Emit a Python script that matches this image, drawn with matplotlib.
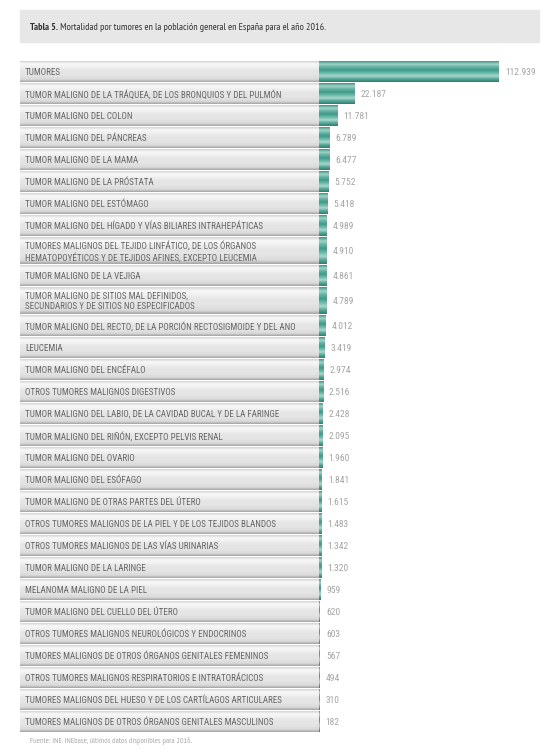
import numpy as np
from matplotlib import pyplot as plt
from matplotlib.colors import LinearSegmentedColormap, to_rgb
from matplotlib.patches import Rectangle
from matplotlib.transforms import blended_transform_factory

plt.rcParams["font.family"] = ["Roboto Condensed", "DejaVu Sans"]
TITLE_FONT = ["PT Sans Narrow", "DejaVu Sans"]

title_bold = "Tabla 5."
title_rest = " Mortalidad por tumores en la población general en España para el año 2016."
source = "Fuente: INE. INEbase, últimos datos disponibles para 2016."

labels = [
    "TUMORES",
    "TUMOR MALIGNO DE LA TRÁQUEA, DE LOS BRONQUIOS Y DEL PULMÓN",
    "TUMOR MALIGNO DEL COLON",
    "TUMOR MALIGNO DEL PÁNCREAS",
    "TUMOR MALIGNO DE LA MAMA",
    "TUMOR MALIGNO DE LA PRÓSTATA",
    "TUMOR MALIGNO DEL ESTÓMAGO",
    "TUMOR MALIGNO DEL HÍGADO Y VÍAS BILIARES INTRAHEPÁTICAS",
    "TUMORES MALIGNOS DEL TEJIDO LINFÁTICO, DE LOS ÓRGANOS\nHEMATOPOYÉTICOS Y DE TEJIDOS AFINES, EXCEPTO LEUCEMIA",
    "TUMOR MALIGNO DE LA VEJIGA",
    "TUMOR MALIGNO DE SITIOS MAL DEFINIDOS,\nSECUNDARIOS Y DE SITIOS NO ESPECIFICADOS",
    "TUMOR MALIGNO DEL RECTO, DE LA PORCIÓN RECTOSIGMOIDE Y DEL ANO",
    "LEUCEMIA",
    "TUMOR MALIGNO DEL ENCÉFALO",
    "OTROS TUMORES MALIGNOS DIGESTIVOS",
    "TUMOR MALIGNO DEL LABIO, DE LA CAVIDAD BUCAL Y DE LA FARINGE",
    "TUMOR MALIGNO DEL RIÑÓN, EXCEPTO PELVIS RENAL",
    "TUMOR MALIGNO DEL OVARIO",
    "TUMOR MALIGNO DEL ESÓFAGO",
    "TUMOR MALIGNO DE OTRAS PARTES DEL ÚTERO",
    "OTROS TUMORES MALIGNOS DE LA PIEL Y DE LOS TEJIDOS BLANDOS",
    "OTROS TUMORES MALIGNOS DE LAS VÍAS URINARIAS",
    "TUMOR MALIGNO DE LA LARINGE",
    "MELANOMA MALIGNO DE LA PIEL",
    "TUMOR MALIGNO DEL CUELLO DEL ÚTERO",
    "OTROS TUMORES MALIGNOS NEUROLÓGICOS Y ENDOCRINOS",
    "TUMORES MALIGNOS DE OTROS ÓRGANOS GENITALES FEMENINOS",
    "OTROS TUMORES MALIGNOS RESPIRATORIOS E INTRATORÁCICOS",
    "TUMORES MALIGNOS DEL HUESO Y DE LOS CARTÍLAGOS ARTICULARES",
    "TUMORES MALIGNOS DE OTROS ÓRGANOS GENITALES MASCULINOS",
]
deaths = [112939, 22187, 11781, 6789, 6477, 5752, 5418, 4989, 4910, 4861,
          4789, 4012, 3419, 2974, 2516, 2428, 2095, 1960, 1841, 1615,
          1483, 1342, 1320, 959, 620, 603, 567, 494, 310, 182]

W, H = 551, 752
zero_px, end_px = 319, 499          # where 0 and the max value sit
k = max(deaths) / (end_px - zero_px)  # deaths per pixel
row_px = 22.0

fig = plt.figure(figsize=(W / 100, H / 100), dpi=100)
ax = fig.add_axes([0, 0, 1, 1])
ax.axis("off")


def gradient(colors):
    cm = LinearSegmentedColormap.from_list("g", [to_rgb(c) for c in colors])
    return cm(np.linspace(0, 1, 64))[:, None, :]


gray_grad = gradient(["#d4d4d4", "#f8f8f8", "#f2f2f2", "#eaeaea", "#e4e4e4",
                      "#e6e6e6", "#e0e0e0", "#dadada", "#a4a4a4"])
teal_grad = gradient(["#3f9888", "#9fd3c6", "#62b2a2", "#3f9a89",
                      "#6ab8a8", "#a8d8cc", "#55a898", "#2e7f6e"])

gray_left = -(zero_px - 20) * k
gap = 1.6 / row_px
y = 61 / row_px
lab_tr = blended_transform_factory(ax.transAxes, ax.transData)
for lab, val in zip(labels, deaths):
    h = 1.27 if "\n" in lab else 1.0
    y0, y1 = y + gap / 2, y + h - gap / 2
    yc = y + h / 2
    ax.imshow(gray_grad, extent=[gray_left, 0.6 * k, y1, y0],
              aspect="auto", interpolation="bilinear", zorder=1)
    ax.imshow(teal_grad, extent=[0, val, y1, y0],
              aspect="auto", interpolation="bilinear", zorder=2)
    ax.text(25 / W, yc + 0.03, lab, transform=lab_tr, ha="left", va="center",
            fontsize=6.5, color="#666666", linespacing=1.2, zorder=3)
    ax.text(val + 6 * k, yc + 0.03, f"{val:,}".replace(",", "."), ha="left",
            va="center", fontsize=6.8, color="#a4a4a4", zorder=3)
    y += h

ax.set_xlim(-zero_px * k, (W - zero_px) * k)
ax.set_ylim(H / row_px, 0)

# title box
fig.patches.append(Rectangle((20 / W, 1 - 42 / H), 519 / W, 32 / H,
                             transform=fig.transFigure, color="#e7e7e7",
                             zorder=0))
t = fig.text(30 / W, 1 - 27 / H, title_bold, fontsize=7.2, weight="bold",
             color="#333333", va="center", family=TITLE_FONT)
fig.canvas.draw()
bb = t.get_window_extent()
fig.text(bb.x1 / W, 1 - 27 / H, title_rest, fontsize=7.2, color="#333333",
         va="center", family=TITLE_FONT)

fig.text(30 / W, 1 - 741 / H, source, fontsize=5.8, color="#a8a8a8",
         va="center", family=TITLE_FONT)

fig.savefig("out.png", dpi=100, facecolor="white")
